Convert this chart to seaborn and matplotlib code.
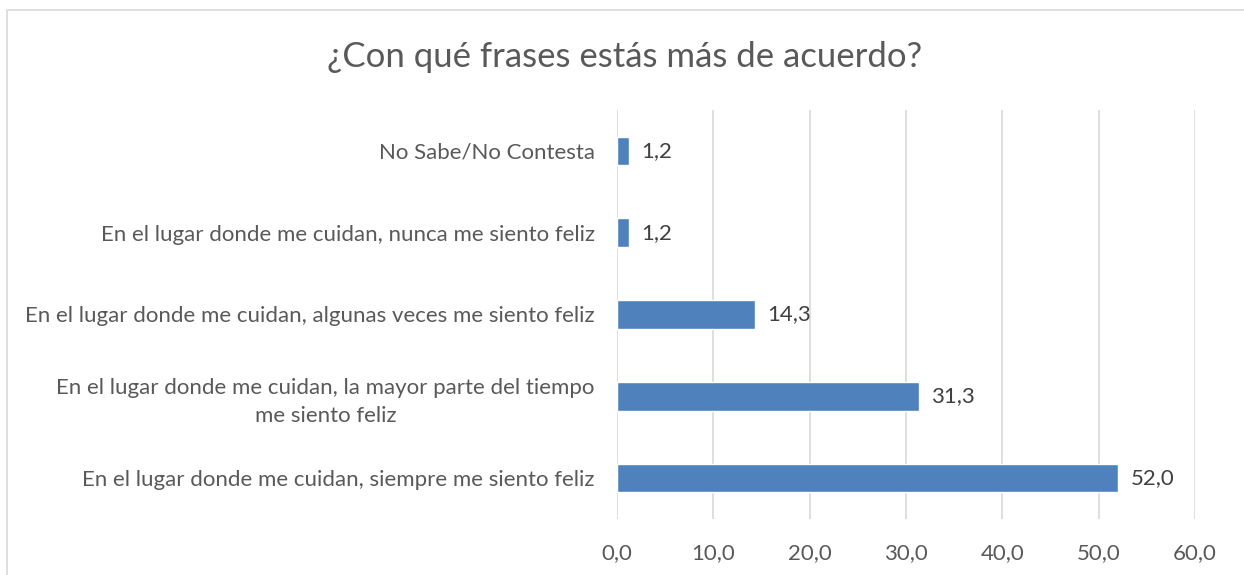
import matplotlib
matplotlib.use("Agg")
import matplotlib.pyplot as plt
import pandas as pd
import seaborn as sns
from matplotlib.patches import Rectangle

categorias = [
    "No Sabe/No Contesta",
    "En el lugar donde me cuidan, nunca me siento feliz",
    "En el lugar donde me cuidan, algunas veces me siento feliz",
    "En el lugar donde me cuidan, la mayor parte del tiempo\nme siento feliz",
    "En el lugar donde me cuidan, siempre me siento feliz",
]
porcentajes = [1.2, 1.2, 14.3, 31.3, 52.0]
ticks_x = [0, 10, 20, 30, 40, 50, 60]

sns.set_theme(style="white")
plt.rcParams["font.family"] = ["Lato", "DejaVu Sans"]
gris = "#595959"

df = pd.DataFrame({"frase": categorias, "valor": porcentajes})

fig = plt.figure(figsize=(12.44, 5.75), dpi=100)
ax = fig.add_axes([617 / 1244, 1 - 519 / 575, (1195 - 617) / 1244, (519 - 110) / 575])

sns.barplot(data=df, x="valor", y="frase", orient="h", color="#4F81BD",
            saturation=1, width=0.35, ax=ax)

ax.set_xlim(0, 60)
ax.set_ylim(4.5, -0.5)
ax.set_xticks(ticks_x)
ax.set_xticklabels([f"{t:.1f}".replace(".", ",") for t in ticks_x])
ax.grid(axis="x", color="#D9D9D9", linewidth=1.2)
ax.set_axisbelow(True)
for s in ax.spines.values():
    s.set_visible(False)
ax.set_xlabel("")
ax.set_ylabel("")
ax.tick_params(axis="x", length=0, pad=17, labelsize=16, labelcolor=gris)
ax.tick_params(axis="y", length=0, pad=16, labelsize=16, labelcolor=gris)
for lbl in ax.get_yticklabels():
    lbl.set_multialignment("center")
    lbl.set_linespacing(1.45)

for i, v in enumerate(porcentajes):
    ax.annotate(f"{v:.1f}".replace(".", ","), (v, i), xytext=(9, 0),
                textcoords="offset points", va="center", ha="left",
                fontsize=16, color="#404040")

fig.text(625 / 1244, 1 - 57 / 575, "¿Con qué frases estás más de acuerdo?",
         ha="center", va="center", fontsize=25, color=gris)

fig.patches.append(Rectangle((7.5 / 1244, -0.1), 1.2, 1.1 - 10.5 / 575,
                             transform=fig.transFigure, fill=False,
                             edgecolor="#D9D9D9", linewidth=1.2))

fig.savefig("out.png", dpi=100)
